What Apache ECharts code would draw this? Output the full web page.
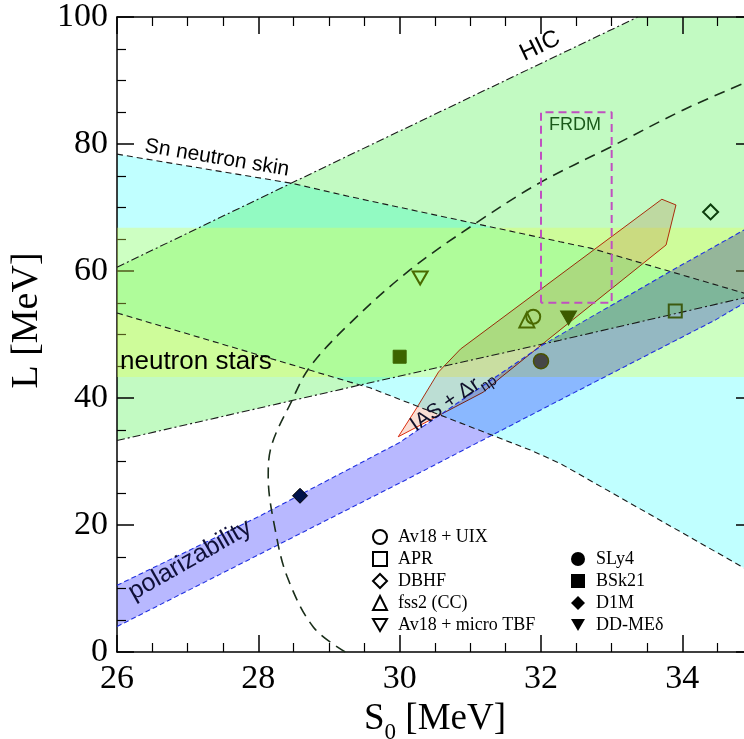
<!DOCTYPE html>
<html><head><meta charset="utf-8">
<script src="https://cdn.jsdelivr.net/npm/echarts@6/dist/echarts.min.js"></script>
<style>html,body{margin:0;padding:0;background:#fff}#c{width:744px;height:739px}</style>
</head><body><div id="c"></div>
<script>
// ---------------- data (S0 [MeV], L [MeV]) ----------------
const xTicks = [26, 28, 30, 32, 34];
const yTicks = [0, 20, 40, 60, 80, 100];

// Sn neutron skin band
const snUpper = [[26,78.4],[28.48,73.8],[29.3,71.7],[32.27,64.6],[32.7,63.6],[34.88,56.5],[35,56.1]];
const snLower = [[26,53.4],[29.3,42.5],[29.58,41.6],[31.85,31.8],[32.27,29.7],[34.88,13.2],[35,12.4]];
// HIC band
const hicUpper = [[26,60.6],[29.3,78.3],[33.37,100]];
const hicLower = [[26,33.3],[29.58,42.4],[32.27,49.1],[35,56.1]];
// neutron stars band
const nsS = [26, 35];
const nsL = [43.3, 66.8];
// polarizability band
const polUpper = [[26,10.5],[28,21.3],[30,33.0],[32.03,48.4],[33.87,60.2],[34.88,66.5],[35,67.3]];
const polLower = [[26,4.0],[28,15.3],[30,26.6],[32.27,39.7],[34.47,52.3],[34.88,55.0],[35,55.7]];
// IAS + Δr_np contour
const iasS = [33.71,33.91,33.77,31.45,31.18,29.98,30.25,30.55,30.86];
const iasL = [71.3,70.4,64.1,43.4,40.9,33.9,38.6,44.1,47.7];
// dashed curve
const curveS = [29.23,28.78,28.41,28.24,28.14,28.17,28.48,28.73,29.3,30.15,31.1,32.0,32.98,34.02,34.88];
const curveL = [0,3.9,11.8,19.2,27.6,31.8,39.7,44.9,51.8,60.2,67.7,74.0,79.5,85.4,89.6];
// FRDM box
const frdmS = [32, 33];
const frdmL = [55, 85];
// models
const modelNames = ['Av18 + UIX','APR','DBHF','fss2 (CC)','Av18 + micro TBF','SLy4','BSk21','D1M','DD-MEδ'];
const modelS = [31.89, 33.9, 34.4, 31.8, 30.29, 32.0, 30.0, 28.59, 32.39];
const modelL = [52.8, 53.7, 69.3, 52.3, 58.9, 45.8, 46.5, 24.6, 52.6];

// ---------------- styles ----------------
const INV_TRI = 'path://M0,0L10,0L5,8.66Z';
const mStyle = {
  'Av18 + UIX':       {symbol:'circle',  size:14, fill:'rgba(0,0,0,0)', stroke:'#4a6a00', bw:2},
  'APR':              {symbol:'rect',    size:13, fill:'rgba(0,0,0,0)', stroke:'#3c5a10', bw:2},
  'DBHF':             {symbol:'diamond', size:15, fill:'rgba(0,0,0,0)', stroke:'#0c3c0c', bw:2},
  'fss2 (CC)':        {symbol:'triangle',size:15, fill:'rgba(0,0,0,0)', stroke:'#4a6a00', bw:2},
  'Av18 + micro TBF': {symbol:INV_TRI,   size:[15,13], fill:'rgba(0,0,0,0)', stroke:'#4a6a00', bw:2},
  'SLy4':             {symbol:'circle',  size:15, fill:'#464646', stroke:'#4a5200', bw:1.5},
  'BSk21':            {symbol:'rect',    size:13, fill:'#3c6400', stroke:'#3c6400', bw:1},
  'D1M':              {symbol:'diamond', size:15, fill:'#00124a', stroke:'#000', bw:1},
  'DD-MEδ':           {symbol:INV_TRI,   size:[16,14], fill:'#3c5a00', stroke:'#3c5a00', bw:1}
};
const legendIcon = {
  'Av18 + UIX':'circle','APR':'rect','DBHF':'diamond','fss2 (CC)':'triangle','Av18 + micro TBF':INV_TRI,
  'SLy4':'circle','BSk21':'rect','D1M':'diamond','DD-MEδ':INV_TRI
};
const openSet = ['Av18 + UIX','APR','DBHF','fss2 (CC)','Av18 + micro TBF'];

const SANS = "'Liberation Sans', Arial, sans-serif";
const SERIF = "'Liberation Serif', 'Times New Roman', serif";

function band(upper, lower, fill, blend, z, stroke) {
  return {
    type:'custom', coordinateSystem:'cartesian2d', silent:true, z:z, blendMode:blend,
    data:[upper[0]], encode:{x:0,y:1},
    renderItem:(params, api) => {
      const pts = upper.map(p => api.coord(p)).concat(lower.slice().reverse().map(p => api.coord(p)));
      return {type:'polygon', shape:{points:pts}, style:{fill:fill, stroke:stroke||null, lineWidth:1}};
    }
  };
}
function line(data, color, type, width, z, smooth) {
  return {type:'line', data:data, symbol:'none', showSymbol:false, silent:true, z:z, smooth:smooth||false,
    lineStyle:{color:color, type:type, width:width}, animation:false};
}

const series = [];
series.push(band(snUpper, snLower, 'rgb(192,255,255)', 'multiply', 2));
series.push(band(hicUpper.concat([[35,100]]), hicLower, 'rgb(194,250,194)', 'multiply', 3));
series.push(band([[nsS[0],nsL[1]],[nsS[1],nsL[1]]], [[nsS[0],nsL[0]],[nsS[1],nsL[0]]], 'rgba(230,255,80,0.35)', 'source-over', 4));
series.push(band(polUpper, polLower, 'rgb(184,184,255)', 'multiply', 5));
{
  const iasPts = iasS.map((s,i) => [s, iasL[i]]);
  series.push({
    type:'custom', coordinateSystem:'cartesian2d', silent:true, z:6, blendMode:'multiply',
    data:[iasPts[0]], encode:{x:0,y:1},
    renderItem:(params, api) => ({type:'polygon', shape:{points: iasPts.map(p => api.coord(p))},
      style:{fill:'rgb(250,222,212)', stroke:'#e03010', lineWidth:1}})
  });
}
series.push(line(snUpper, '#1a1a1a', [6,4], 1.1, 7));
series.push(line(snLower, '#1a1a1a', [6,4], 1.1, 7));
series.push(line(hicUpper, '#1a1a1a', [8,3,2,3], 1.1, 7));
series.push(line(hicLower, '#1a1a1a', [8,3,2,3], 1.1, 7));
series.push(line(polUpper, '#2030e0', [5,3], 1.1, 7));
series.push(line(polLower, '#2030e0', [5,3], 1.1, 7));
series.push(line(curveS.map((s,i)=>[s,curveL[i]]), '#1a2e1a', [11,7], 1.6, 7, 0.35));
series.push(line([[frdmS[0],frdmL[0]],[frdmS[0],frdmL[1]],[frdmS[1],frdmL[1]],[frdmS[1],frdmL[0]],[frdmS[0],frdmL[0]]],
  '#c050c0', [8,5], 2, 7));

modelNames.forEach((n,i) => {
  const st = mStyle[n];
  series.push({type:'scatter', name:n, data:[[modelS[i], modelL[i]]], symbol:st.symbol, symbolSize:st.size,
    silent:true, z:9, itemStyle:{color:st.fill, borderColor:st.stroke, borderWidth:st.bw, opacity:1}});
});

function legendData(names) {
  return names.map(n => ({
    name:n, icon:legendIcon[n],
    itemStyle: openSet.includes(n) ? {color:'rgba(0,0,0,0)', borderColor:'#000', borderWidth:2}
                                   : {color:'#000', borderColor:'#000', borderWidth:0}
  }));
}
const legendText = {color:'#000', fontFamily:SERIF, fontSize:18, lineHeight:18, padding:[0,0,0,6]};

const axisCommon = {
  axisLine:{onZero:false, lineStyle:{color:'#000', width:1.5}},
  axisTick:{inside:true, length:17, lineStyle:{color:'#000', width:1.5}},
  minorTick:{show:true, splitNumber:4, length:9, lineStyle:{color:'#000', width:1.2}},
  splitLine:{show:false}
};

const chart = echarts.init(document.getElementById('c'), null, {renderer:'canvas'});
chart.setOption({
  backgroundColor:'#fff',
  animation:false,
  grid:{left:117, right:-9, top:17, bottom:87, containLabel:false, outerBoundsMode:'none'},
  xAxis:[
    Object.assign({type:'value', min:xTicks[0], max:35, interval:xTicks[1]-xTicks[0], position:'bottom',
      name:'{a|S}{b|0}{a| [MeV]}', nameLocation:'middle', nameGap:24,
      nameTextStyle:{rich:{a:{fontFamily:SERIF, fontSize:37, color:'#000', lineHeight:50},
                           b:{fontFamily:SERIF, fontSize:23, color:'#000', lineHeight:23, verticalAlign:'bottom'}}},
      axisLabel:{fontFamily:SERIF, fontSize:34, color:'#000', margin:10, showMaxLabel:false}}, axisCommon),
    Object.assign({type:'value', min:xTicks[0], max:35, interval:xTicks[1]-xTicks[0], position:'top',
      axisLabel:{show:false}}, axisCommon)
  ],
  yAxis:[
    Object.assign({type:'value', min:yTicks[0], max:yTicks[yTicks.length-1], interval:yTicks[1]-yTicks[0], position:'left',
      name:'L [MeV]', nameLocation:'middle', nameGap:68, nameRotate:90,
      nameTextStyle:{fontFamily:SERIF, fontSize:38, color:'#000', padding:[0,0,0,28]},
      axisLabel:{fontFamily:SERIF, fontSize:34, color:'#000', margin:9}}, axisCommon),
    Object.assign({type:'value', min:yTicks[0], max:yTicks[yTicks.length-1], interval:yTicks[1]-yTicks[0], position:'right',
      axisLabel:{show:false}}, axisCommon)
  ],
  legend:[
    {data:legendData(modelNames.slice(0,5)), orient:'vertical', left:372, top:528, padding:0, itemGap:4,
     itemWidth:14, itemHeight:14, selectedMode:false, textStyle:legendText},
    {data:legendData(modelNames.slice(5)), orient:'vertical', left:571, top:550, padding:0, itemGap:4,
     itemWidth:14, itemHeight:14, selectedMode:false, textStyle:legendText}
  ],
  graphic:[
    {type:'text', x:217, y:158, rotation:-0.165, z:20, silent:true,
     style:{text:'Sn neutron skin', fontFamily:SANS, fontSize:21, fill:'#000', align:'center', verticalAlign:'middle'}},
    {type:'text', x:540, y:46, rotation:0.449, z:20, silent:true,
     style:{text:'HIC', fontFamily:SANS, fontSize:24, fill:'#000', align:'center', verticalAlign:'middle'}},
    {type:'text', x:120, y:362, z:20, silent:true,
     style:{text:'neutron stars', fontFamily:SANS, fontSize:26, fill:'#000', align:'left', verticalAlign:'middle'}},
    {type:'text', x:575, y:125, z:20, silent:true,
     style:{text:'FRDM', fontFamily:SANS, fontSize:18, fill:'#1a5a1a', align:'center', verticalAlign:'middle'}},
    {type:'text', x:190, y:560, rotation:0.52, z:20, silent:true,
     style:{text:'polarizability', fontFamily:SANS, fontSize:25, fill:'#10103a', align:'center', verticalAlign:'middle'}},
    {type:'text', x:452, y:400, rotation:0.6, z:20, silent:true,
     style:{text:'{a|IAS + Δr}{b|np}', align:'center', verticalAlign:'middle',
       rich:{a:{fontFamily:SANS, fontSize:21, fill:'#10102a', lineHeight:30},
             b:{fontFamily:SANS, fontSize:15, fill:'#10102a', lineHeight:15, verticalAlign:'bottom'}}}}
  ],
  series:series
});
</script></body></html>
